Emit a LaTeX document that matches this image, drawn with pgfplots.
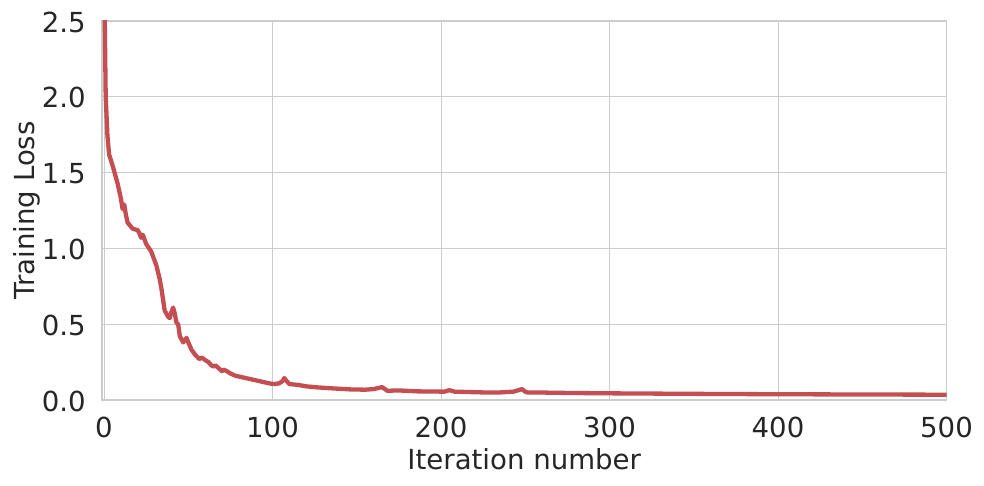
\documentclass[border=0pt]{standalone}
\usepackage{fontspec}
\setmainfont{DejaVu Sans}
\usepackage{pgfplots}
\pgfplotsset{compat=1.18}
\definecolor{lossred}{HTML}{C44E52}
\definecolor{gridgray}{HTML}{CCCCCC}
\definecolor{textgray}{HTML}{262626}

\begin{document}
\begin{tikzpicture}
\path[use as bounding box] (-102pt,-85pt) rectangle (882pt,400pt);
\begin{axis}[
    at={(0,0)}, anchor=south west,
    scale only axis,
    width=844.5pt, height=379pt,
    xmin=-1.2, xmax=500,
    ymin=0, ymax=2.5,
    xtick={0,100,200,300,400,500},
    ytick={0,0.5,1.0,1.5,2.0,2.5},
    yticklabel style={/pgf/number format/fixed, /pgf/number format/fixed zerofill, /pgf/number format/precision=1},
    /pgf/number format/assume math mode=true,
    major tick length=0pt,
    grid=major,
    major grid style={gridgray, line width=1pt},
    axis line style={gridgray, line width=1.25pt},
    font=\fontsize{27.6}{33}\selectfont,
    tick label style={textgray, inner sep=0pt},
    xticklabel style={anchor=north, yshift=-17pt},
    yticklabel style={anchor=east, xshift=-16pt, yshift=-1pt},
    xlabel={Iteration number},
    ylabel={Training Loss},
    label style={textgray, inner sep=0pt},
    xlabel style={at={([yshift=-69pt]axis description cs:0.5,0)}, anchor=base},
    ylabel style={at={([xshift=-67pt]axis description cs:0,0.5)}, anchor=base},
]
\addplot[color=lossred, line width=4.3pt, line join=round, line cap=round] coordinates {
(0,2.9)(1,2.0)(2,1.75)(3,1.62)(5,1.55)(7,1.47)(8,1.43)(10,1.33)(11,1.26)(12,1.29)
(13,1.22)(14,1.17)(17,1.13)(20,1.12)(21,1.10)(22,1.07)(23,1.09)(25,1.03)(28,0.98)
(31,0.89)(33,0.80)(34,0.74)(36,0.59)(38,0.55)(39,0.54)(40,0.58)(41,0.61)(42,0.57)
(43,0.51)(44,0.50)(45,0.42)(47,0.38)(49,0.41)(50,0.38)(52,0.33)(54,0.30)(56.5,0.27)
(58,0.28)(60.5,0.26)(62,0.25)(63.5,0.23)(65,0.22)(66,0.23)(68,0.21)(70,0.19)(71,0.20)
(73,0.19)(75,0.175)(78,0.16)(82,0.15)(86,0.14)(90,0.13)(94,0.12)(98,0.11)(101,0.105)
(104,0.11)(106,0.125)(107,0.145)(108,0.13)(110,0.105)(115,0.10)(120,0.09)(127,0.083)
(135,0.077)(146,0.07)(155,0.068)(160,0.072)(165,0.085)(167,0.07)(168,0.061)(175,0.063)
(186,0.057)(195,0.056)(202,0.055)(205,0.065)(208,0.055)(215,0.053)(225,0.05)(235,0.05)
(243,0.055)(246,0.065)(248,0.072)(250,0.055)(251,0.05)(258,0.05)(265,0.048)(280,0.046)
(300,0.044)(330,0.042)(360,0.04)(400,0.038)(430,0.037)(460,0.036)(500,0.035)
};
\end{axis}
\end{tikzpicture}
\end{document}
